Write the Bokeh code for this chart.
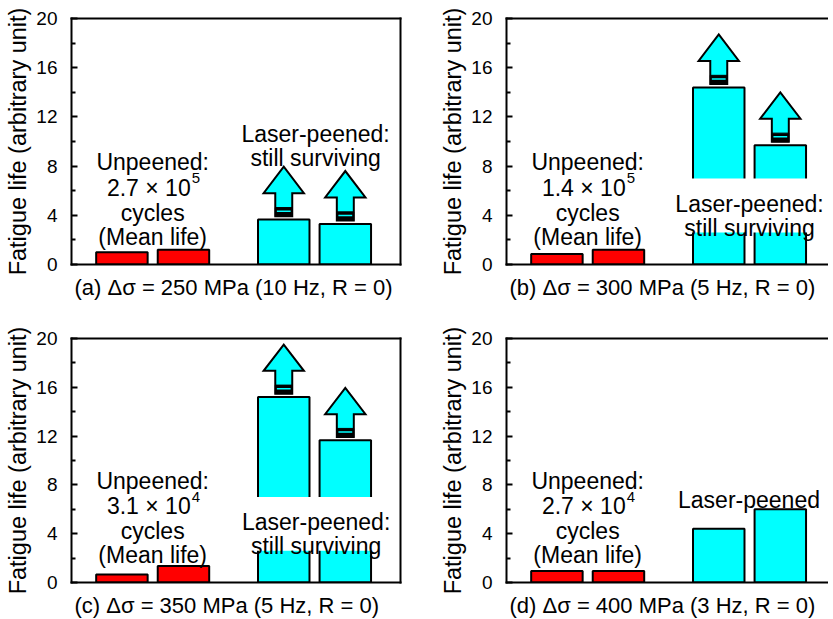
from bokeh.plotting import figure
from bokeh.models import Range1d, FixedTicker, LinearAxis, BoxAnnotation, Title
from bokeh.layouts import column, row
from bokeh.embed import file_html
from bokeh.resources import INLINE
from bokeh.core.properties import value

# ---------------- data ----------------
bar_slots = [0.95, 2.11, 4.0, 5.16]          # positions of the four bars
unpeened_a = [1.0, 1.2]
peened_a = [3.65, 3.3]
unpeened_b = [0.85, 1.2]
peened_b = [14.4, 9.7]
unpeened_c = [0.65, 1.35]
peened_c = [15.2, 11.65]
unpeened_d = [0.95, 0.95]
peened_d = [4.4, 6.0]
cycles_mantissa = ["2.7 × 10", "1.4 × 10", "3.1 × 10", "2.7 × 10"]
cycles_exponent = ["5", "5", "4", "4"]
titles = ["(a)  Δσ = 250 MPa (10 Hz, R = 0)",
          "(b)  Δσ = 300 MPa (5 Hz, R = 0)",
          "(c)  Δσ = 350 MPa (5 Hz, R = 0)",
          "(d)  Δσ = 400 MPa (3 Hz, R = 0)"]
still_surviving = [True, True, True, False]
y_ticks = [0, 4, 8, 12, 16, 20]
y_minor = [2, 6, 10, 14, 18]

FONT = "Liberation Sans"
RED = "#ff0000"
CYAN = "#00ffff"


def empty_axis(ax):
    ax.ticker = FixedTicker(ticks=[])
    ax.major_tick_line_color = None
    ax.minor_tick_line_color = None
    ax.major_label_text_font_size = "0px"
    ax.major_label_standoff = 0
    ax.axis_line_color = "black"
    ax.axis_line_width = 2
    ax.axis_line_cap = "square"


def make_panel(unp, pee, mant, expo, title, surviving, laser_lines, laser_x, laser_y,
               box, is_left, top_row):
    fw = 410 if is_left else 418
    fh = 317 if top_row else 308
    bl = 71 if is_left else 96
    br = 10 if is_left else 0
    bt = 18 if top_row else 21
    bb = 53 if top_row else 43
    frame_w = fw - bl - br
    x_end = 6.2 * frame_w / 329.0
    p = figure(width=fw, height=fh, x_range=Range1d(0, x_end), y_range=Range1d(0, 20),
               output_backend="svg", toolbar_location=None,
               min_border_left=bl, min_border_right=br,
               min_border_top=bt, min_border_bottom=bb)
    p.grid.visible = False
    p.background_fill_color = "white"
    p.border_fill_color = "white"
    p.outline_line_color = None

    # y axis
    ya = p.yaxis[0]
    ya.ticker = FixedTicker(ticks=y_ticks, minor_ticks=y_minor)
    ya.major_tick_in = 6
    ya.major_tick_out = 0
    ya.minor_tick_in = 4
    ya.minor_tick_out = 0
    ya.major_tick_line_width = 2
    ya.minor_tick_line_width = 2
    ya.major_tick_line_color = "black"
    ya.minor_tick_line_color = "black"
    ya.axis_line_width = 2
    ya.axis_line_color = "black"
    ya.axis_line_cap = "square"
    ya.major_label_text_font = FONT
    ya.major_label_text_font_size = "19px"
    ya.major_label_text_color = "black"
    ya.major_label_standoff = 14
    ya.axis_label = "Fatigue life (arbitrary unit)"
    ya.axis_label_text_font = FONT
    ya.axis_label_text_font_size = "23.5px"
    ya.axis_label_text_font_style = "normal"
    ya.axis_label_text_color = "black"
    ya.axis_label_standoff = 2

    # frame lines
    empty_axis(p.xaxis[0])
    top_ax = LinearAxis()
    empty_axis(top_ax)
    p.add_layout(top_ax, "above")
    if is_left:
        right_ax = LinearAxis()
        empty_axis(right_ax)
        p.add_layout(right_ax, "right")

    # bars
    p.vbar(x=bar_slots[:2], top=unp, width=0.97, fill_color=RED,
           line_color="black", line_width=2)
    p.vbar(x=bar_slots[2:], top=pee, width=0.97, fill_color=CYAN,
           line_color="black", line_width=2)

    # arrows for specimens still surviving
    if surviving:
        sw, hw = 0.16, 0.38
        axs, ays = [], []
        bl_l, bl_r, bl_b, bl_t = [], [], [], []
        s_x0, s_x1, s_y = [], [], []
        for cx, v in zip(bar_slots[2:], pee):
            sb = v + 0.28
            hb = sb + 1.87
            tip = sb + 4.02
            axs.append([cx - sw, cx + sw, cx + sw, cx + hw, cx, cx - hw, cx - sw])
            ays.append([sb, sb, hb, hb, tip, hb, hb])
            bl_l.append(cx - sw)
            bl_r.append(cx + sw)
            bl_b.append(sb)
            bl_t.append(sb + 0.7)
            s_x0.append(cx - sw + 0.03)
            s_x1.append(cx + sw - 0.03)
            s_y.append(sb + 0.4)
        p.patches(axs, ays, fill_color=CYAN, line_color="black", line_width=2,
                  line_join="miter")
        p.quad(left=bl_l, right=bl_r, bottom=bl_b, top=bl_t, fill_color="black",
               line_color="black", line_width=1)
        p.segment(x0=s_x0, x1=s_x1, y0=s_y, y1=s_y, line_color=CYAN, line_width=1.5)

    # white box behind the laser-peened text
    if box is not None:
        p.add_layout(BoxAnnotation(left=box[0], right=min(box[1], x_end),
                                   bottom=box[2], top=box[3],
                                   fill_color="white", fill_alpha=1.0,
                                   line_alpha=0.0))

    # texts
    ux = (bar_slots[0] + bar_slots[1]) / 2
    p.text(x=[ux] * 3, y=[8.3, 4.22, 2.25],
           text=["Unpeened:", "cycles", "(Mean life)"],
           text_align="center", text_baseline="alphabetic",
           text_font=value(FONT), text_font_size="23px", text_color="black",
           level="overlay")
    p.text(x=[ux], y=[6.25], text=[mant], x_offset=38,
           text_align="right", text_baseline="alphabetic",
           text_font=value(FONT), text_font_size="23px", text_color="black",
           level="overlay")
    p.text(x=[ux], y=[7.0], text=[expo], x_offset=39,
           text_align="left", text_baseline="alphabetic",
           text_font=value(FONT), text_font_size="15px", text_color="black",
           level="overlay")
    p.text(x=[laser_x] * len(laser_lines), y=laser_y, text=laser_lines,
           text_align="center", text_baseline="alphabetic",
           text_font=value(FONT), text_font_size="23px", text_color="black",
           level="overlay")

    p.add_layout(Title(text=title, align="left", offset=3, text_font=FONT,
                       text_font_size="22px", text_font_style="normal",
                       text_color="black", standoff=16), "below")
    return p


pa = make_panel(unpeened_a, peened_a, cycles_mantissa[0], cycles_exponent[0], titles[0],
                still_surviving[0], ["Laser-peened:", "still surviving"], 4.6,
                [10.6, 8.68], None, True, True)
pb = make_panel(unpeened_b, peened_b, cycles_mantissa[1], cycles_exponent[1], titles[1],
                still_surviving[1], ["Laser-peened:", "still surviving"], 4.58,
                [4.92, 2.97], (3.03, 9.9, 2.6, 7.0), False, True)
pc = make_panel(unpeened_c, peened_c, cycles_mantissa[2], cycles_exponent[2], titles[2],
                still_surviving[2], ["Laser-peened:", "still surviving"], 4.61,
                [4.92, 2.97], (3.09, 6.14, 2.6, 7.0), True, False)
pd = make_panel(unpeened_d, peened_d, cycles_mantissa[3], cycles_exponent[3], titles[3],
                still_surviving[3], ["Laser-peened"], 4.57, [6.8], None, False, False)

layout = column(row(pa, pb), row(pc, pd))
open("out.html", "w").write(file_html(layout, INLINE))
